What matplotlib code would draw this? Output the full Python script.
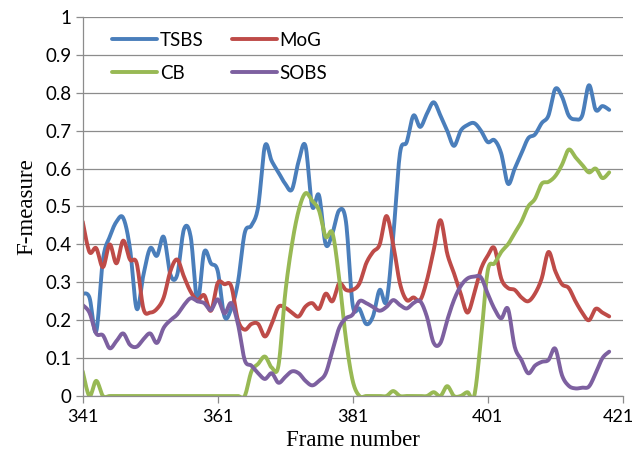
import numpy as np
import matplotlib
matplotlib.use("Agg")
import matplotlib.pyplot as plt
from matplotlib.transforms import ScaledTranslation

frames = list(range(341, 420))

tsbs = [0.27, 0.26, 0.17, 0.36, 0.42, 0.46, 0.47, 0.39, 0.23, 0.32,
        0.39, 0.37, 0.42, 0.32, 0.32, 0.44, 0.42, 0.25, 0.38, 0.35,
        0.33, 0.21, 0.23, 0.30, 0.43, 0.45, 0.50, 0.66, 0.62, 0.59,
        0.56, 0.545, 0.62, 0.66, 0.50, 0.53, 0.40, 0.43, 0.49, 0.46,
        0.24, 0.23, 0.19, 0.21, 0.28, 0.25, 0.42, 0.64, 0.67, 0.74,
        0.71, 0.745, 0.775, 0.74, 0.70, 0.66, 0.70, 0.715, 0.72, 0.70,
        0.67, 0.675, 0.64, 0.56, 0.60, 0.64, 0.68, 0.69, 0.72, 0.74,
        0.81, 0.79, 0.74, 0.73, 0.74, 0.82, 0.755, 0.765, 0.755]

mog = [0.46, 0.38, 0.39, 0.34, 0.40, 0.35, 0.41, 0.36, 0.35, 0.23,
       0.22, 0.23, 0.26, 0.33, 0.36, 0.315, 0.275, 0.253, 0.266, 0.225,
       0.298, 0.295, 0.29, 0.20, 0.175, 0.19, 0.19, 0.157, 0.19, 0.235,
       0.233, 0.22, 0.21, 0.236, 0.245, 0.23, 0.27, 0.25, 0.297, 0.28,
       0.28, 0.297, 0.35, 0.38, 0.40, 0.475, 0.40, 0.297, 0.253, 0.26,
       0.253, 0.306, 0.385, 0.464, 0.376, 0.324, 0.27, 0.22, 0.27, 0.335,
       0.37, 0.39, 0.31, 0.285, 0.28, 0.26, 0.25, 0.27, 0.31, 0.38,
       0.33, 0.295, 0.285, 0.25, 0.22, 0.20, 0.23, 0.22, 0.21]

cb = [0.065, 0.0, 0.04, 0.0, 0.0, 0.0, 0.0, 0.0, 0.0, 0.0,
      0.0, 0.0, 0.0, 0.0, 0.0, 0.0, 0.0, 0.0, 0.0, 0.0,
      0.0, 0.0, 0.0, 0.0, 0.0, 0.065, 0.085, 0.104, 0.075, 0.08,
      0.27, 0.40, 0.49, 0.535, 0.515, 0.49, 0.42, 0.43, 0.31, 0.15,
      0.04, 0.0, 0.0, 0.0, 0.0, 0.0, 0.013, 0.0, 0.0, 0.0,
      0.0, 0.0, 0.01, 0.0, 0.026, 0.0, 0.0, 0.01, 0.0, 0.15,
      0.33, 0.35, 0.38, 0.40, 0.43, 0.46, 0.50, 0.52, 0.56, 0.565,
      0.58, 0.61, 0.65, 0.63, 0.61, 0.59, 0.60, 0.575, 0.59]

sobs = [0.24, 0.22, 0.165, 0.16, 0.126, 0.145, 0.165, 0.135, 0.13, 0.15,
        0.165, 0.14, 0.18, 0.20, 0.215, 0.24, 0.258, 0.25, 0.245, 0.227,
        0.255, 0.218, 0.245, 0.19, 0.095, 0.08, 0.06, 0.045, 0.06, 0.035,
        0.05, 0.065, 0.06, 0.04, 0.028, 0.04, 0.06, 0.12, 0.18, 0.205,
        0.215, 0.25, 0.245, 0.235, 0.225, 0.235, 0.253, 0.24, 0.231, 0.245,
        0.25, 0.209, 0.14, 0.14, 0.20, 0.253, 0.29, 0.31, 0.315, 0.313,
        0.27, 0.23, 0.205, 0.23, 0.13, 0.095, 0.06, 0.08, 0.09, 0.095,
        0.125, 0.055, 0.027, 0.02, 0.022, 0.025, 0.06, 0.10, 0.117]

series_names = ["TSBS", "MoG", "CB", "SOBS"]
colors = ["#4A7EBB", "#BE4B48", "#98B954", "#7D60A0"]
x_ticks = [341, 361, 381, 401, 421]
y_ticks = [0, 0.1, 0.2, 0.3, 0.4, 0.5, 0.6, 0.7, 0.8, 0.9, 1]
y_ticklabels = ["0", "0.1", "0.2", "0.3", "0.4", "0.5", "0.6", "0.7", "0.8", "0.9", "1"]


def smooth(x, y, n=12):
    """Catmull-Rom style cubic Bezier smoothing (like spreadsheet smoothed lines)."""
    x = np.asarray(x, float)
    y = np.asarray(y, float)
    xs, ys = [], []
    m = len(x)
    t = np.linspace(0, 1, n, endpoint=False)
    for i in range(m - 1):
        x0, y0 = (x[i - 1], y[i - 1]) if i > 0 else (x[i], y[i])
        x1, y1 = x[i], y[i]
        x2, y2 = x[i + 1], y[i + 1]
        x3, y3 = (x[i + 2], y[i + 2]) if i + 2 < m else (x2, y2)
        c1x, c1y = x1 + (x2 - x0) / 6, y1 + (y2 - y0) / 6
        c2x, c2y = x2 - (x3 - x1) / 6, y2 - (y3 - y1) / 6
        bx = (1 - t) ** 3 * x1 + 3 * (1 - t) ** 2 * t * c1x + 3 * (1 - t) * t ** 2 * c2x + t ** 3 * x2
        by = (1 - t) ** 3 * y1 + 3 * (1 - t) ** 2 * t * c1y + 3 * (1 - t) * t ** 2 * c2y + t ** 3 * y2
        xs.extend(bx)
        ys.extend(by)
    xs.append(x[-1])
    ys.append(y[-1])
    return np.array(xs), np.array(ys)


fig = plt.figure(figsize=(6.36, 4.61), dpi=100)
ax = fig.add_axes([82.7 / 636, 1 - 396 / 461, 540 / 636, 379 / 461])

handles = {}
for name, vals, col in zip(series_names, [tsbs, mog, cb, sobs], colors):
    sx, sy = smooth(frames, vals)
    h, = ax.plot(sx, sy, color=col, lw=2.8, label=name, solid_capstyle="round",
                 solid_joinstyle="round")
    handles[name] = h

ax.set_xlim(341, 421)
ax.set_ylim(0, 1)
ax.set_xticks(x_ticks)
ax.set_xticklabels([str(v) for v in x_ticks], fontsize=13, family="Lato")
ax.set_yticks(y_ticks)
ax.set_yticklabels(y_ticklabels, fontsize=13.5, family="Lato")
ax.grid(axis="y", color="#8C8C8C", lw=0.9)
ax.set_axisbelow(True)
for s in ["top", "right"]:
    ax.spines[s].set_visible(False)
for s in ["left", "bottom"]:
    ax.spines[s].set_color("#8C8C8C")
    ax.spines[s].set_linewidth(0.9)
ax.tick_params(axis="both", colors="#8C8C8C", length=5, width=0.9, labelcolor="black")
ax.tick_params(axis="x", pad=4)
ax.tick_params(axis="y", pad=3)

# keep the last x tick label inside the canvas, as in the reference
last = ax.get_xticklabels()[-1]
last.set_transform(last.get_transform() + ScaledTranslation(-4 / 100, 0, fig.dpi_scale_trans))

ax.set_xlabel("Frame number", fontsize=16.5, family="Liberation Serif", labelpad=4)
ax.set_ylabel("F-measure", fontsize=16.5, family="Liberation Serif", labelpad=6)

order = ["TSBS", "CB", "MoG", "SOBS"]
leg = ax.legend([handles[k] for k in order], order, ncol=2, loc="upper left",
                bbox_to_anchor=(0.037, 0.985), frameon=False, borderpad=0,
                prop={"family": "Lato", "size": 13.5}, handlelength=2.4,
                handletextpad=0.15, columnspacing=1.5, labelspacing=0.85)

fig.savefig("out.png", dpi=100)
